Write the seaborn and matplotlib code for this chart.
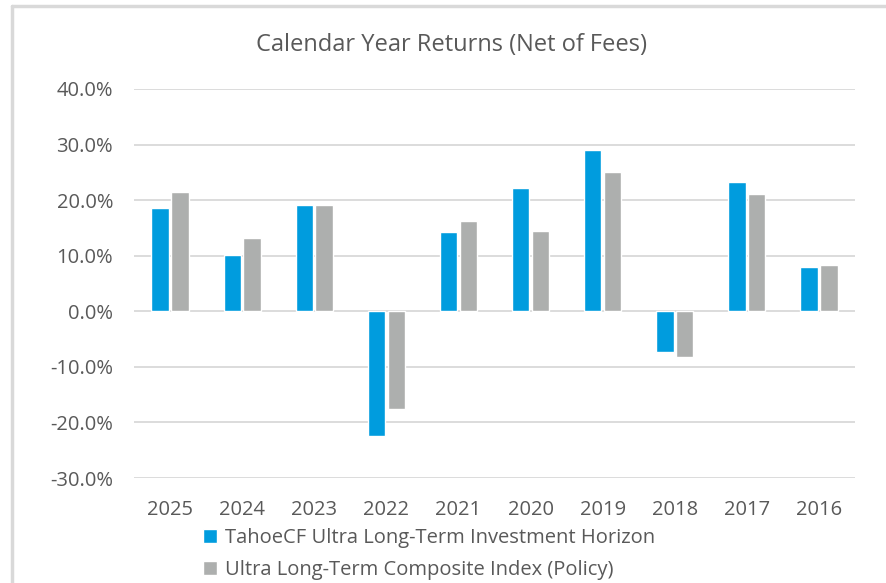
import numpy as np
import pandas as pd
import matplotlib
matplotlib.use("Agg")
import matplotlib.pyplot as plt
import seaborn as sns
from matplotlib.ticker import FuncFormatter
from matplotlib.lines import Line2D

years = ["2025", "2024", "2023", "2022", "2021", "2020", "2019", "2018", "2017", "2016"]
tahoe = [18.6, 10.2, 19.2, -22.4, 14.2, 22.1, 29.0, -7.4, 23.2, 8.0]
policy = [21.4, 13.2, 19.1, -17.5, 16.3, 14.5, 25.0, -8.3, 21.1, 8.4]
series = ["TahoeCF Ultra Long-Term Investment Horizon",
          "Ultra Long-Term Composite Index (Policy)"]
colors = ["#009CDE", "#ADAFAE"]

df = pd.DataFrame({
    "year": years * 2,
    "ret": tahoe + policy,
    "series": [series[0]] * len(years) + [series[1]] * len(years),
})

sns.set_style("white")
plt.rcParams["font.family"] = ["Open Sans", "DejaVu Sans"]
txt = "#595959"

fig = plt.figure(figsize=(8.87, 5.83), dpi=100)
ax = fig.add_axes([134 / 887, 1 - 478 / 583, (855 - 134) / 887, (478 - 89) / 583])

sns.barplot(data=df, x="year", y="ret", hue="series", palette=colors,
            width=0.55, gap=0.12, saturation=1, ax=ax, legend=True)

ax.set_ylim(-30, 40)
ax.set_yticks(np.arange(-30, 41, 10))
ax.yaxis.set_major_formatter(FuncFormatter(lambda v, p: f"{v:.1f}%"))
ax.grid(axis="y", color="#D9D9D9", linewidth=1.3)
ax.set_axisbelow(True)
for s in ax.spines.values():
    s.set_visible(False)
ax.set_xlabel("")
ax.set_ylabel("")
ax.tick_params(axis="both", length=0, labelsize=14.5, colors=txt)
ax.tick_params(axis="y", pad=15)
ax.tick_params(axis="x", pad=16)

ax.legend(loc="upper left", bbox_to_anchor=(203 / 887, 1 - 528 / 583),
          bbox_transform=fig.transFigure, frameon=False, fontsize=14.5,
          labelcolor=txt, handlelength=0.7, handleheight=0.7,
          handletextpad=0.4, labelspacing=0.62, borderaxespad=0,
          borderpad=0)

fig.text(452 / 887, 1 - 45 / 583, "Calendar Year Returns (Net of Fees)",
         ha="center", va="center", fontsize=17, color=txt)

# frame lines of the chart area
fig.add_artist(Line2D([12 / 887, 12 / 887], [0, 1 - 6 / 583], color="#D9D9D9",
                      linewidth=2.5, transform=fig.transFigure))
fig.add_artist(Line2D([12 / 887, 1], [1 - 6 / 583, 1 - 6 / 583], color="#D9D9D9",
                      linewidth=2.5, transform=fig.transFigure))

fig.savefig("out.png", dpi=100, facecolor="white")
